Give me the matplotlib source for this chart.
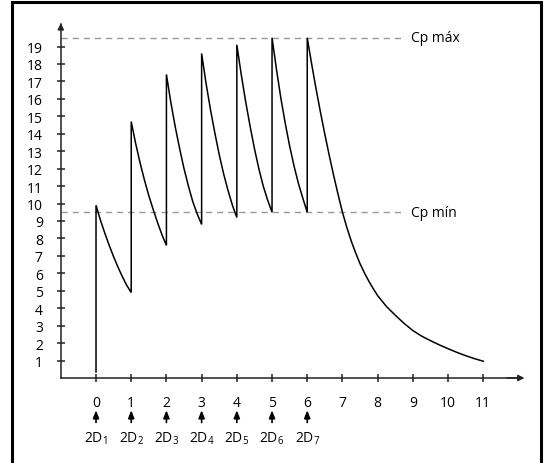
import matplotlib
matplotlib.use("Agg")
import matplotlib.pyplot as plt
from matplotlib.patches import Rectangle

plt.rcParams['font.family'] = ['Open Sans', 'DejaVu Sans']
plt.rcParams['mathtext.fontset'] = 'custom'
plt.rcParams['mathtext.rm'] = 'Open Sans'
plt.rcParams['mathtext.it'] = 'Open Sans'

# values, each dose interval in steps of 1/8
interval_steps = [0, 0.125, 0.25, 0.375, 0.5, 0.625, 0.75, 0.875, 1.0]
dose_times = [0, 1, 2, 3, 4, 5]
decays = [
    [9.9, 9.05, 8.3, 7.6, 6.95, 6.35, 5.8, 5.3, 4.9],
    [14.7, 13.45, 12.35, 11.35, 10.45, 9.65, 8.9, 8.2, 7.6],
    [17.4, 15.8, 14.4, 13.15, 12.0, 11.0, 10.1, 9.4, 8.8],
    [18.6, 16.9, 15.4, 14.05, 12.8, 11.7, 10.75, 9.9, 9.2],
    [19.1, 17.4, 15.85, 14.45, 13.15, 12.0, 11.0, 10.2, 9.5],
    [19.5, 17.7, 16.05, 14.6, 13.3, 12.15, 11.15, 10.3, 9.5],
]
start_level = 0.35
# after the last dose (t = 6)
tail_t = [6, 6.125, 6.25, 6.375, 6.5, 6.625, 6.75, 6.875, 7,
          7.125, 7.25, 7.375, 7.5, 7.625, 7.75, 7.875, 8,
          8.25, 8.5, 8.75, 9, 9.25, 9.5, 9.75, 10, 10.25, 10.5, 10.75, 11]
tail_c = [19.5, 18.0, 16.58, 15.24, 13.97, 12.76, 11.61, 10.53, 9.5,
          8.63, 7.85, 7.17, 6.55, 6.02, 5.55, 5.12, 4.72,
          4.1, 3.6, 3.13, 2.72, 2.4, 2.14, 1.9, 1.68, 1.47, 1.28, 1.11, 0.96]

cp_max = 19.5
cp_min = 9.5
yticks = list(range(1, 20))
xticks = list(range(0, 12))
dose_labels = ['2D$_\\mathrm{%d}$' % i for i in range(1, 8)]
dose_marks = [0, 1, 2, 3, 4, 5, 6]

# build the curve
xs = [0]
ys = [start_level]
for t0, vals in zip(dose_times, decays):
    for s, v in zip(interval_steps, vals):
        xs.append(t0 + s)
        ys.append(v)
for t, v in zip(tail_t, tail_c):
    xs.append(t)
    ys.append(v)

fig = plt.figure(figsize=(5.47, 4.64), dpi=100)
ax = fig.add_axes([0.079, 0.0328, 0.901, 0.940])
ax.set_xlim(-1.5, 12.5)
ax.set_ylim(-4, 21)

axcol = '#222222'
for s in ['top', 'right']:
    ax.spines[s].set_visible(False)
ax.spines['left'].set_position(('data', -1))
ax.spines['bottom'].set_position(('data', 0))
ax.spines['left'].set_bounds(0, 20.3)
ax.spines['bottom'].set_bounds(-1, 12.1)
for s in ['left', 'bottom']:
    ax.spines[s].set_color(axcol)
    ax.spines[s].set_linewidth(1.1)

ax.annotate('', xy=(-1, 20.5), xytext=(-1, 19.8),
            arrowprops=dict(arrowstyle='-|>', color=axcol, lw=1.1,
                            mutation_scale=9), annotation_clip=False)
ax.annotate('', xy=(12.25, 0), xytext=(11.6, 0),
            arrowprops=dict(arrowstyle='-|>', color=axcol, lw=1.1,
                            mutation_scale=9), annotation_clip=False)

ax.set_yticks(yticks)
ax.set_xticks(xticks)
ax.tick_params(direction='inout', length=6, width=1.1, color=axcol,
               labelsize=10, labelcolor='black')
ax.tick_params(axis='y', pad=10)
ax.tick_params(axis='x', pad=9)

# reference lines
ax.plot([-1, 8.7], [cp_max, cp_max], color='#999999', lw=1.0,
        dashes=(4.5, 3.5))
ax.plot([-1, 8.7], [cp_min, cp_min], color='#999999', lw=1.0,
        dashes=(4.5, 3.5))
ax.text(8.95, cp_max, 'Cp máx', fontsize=10, va='center', ha='left')
ax.text(8.95, cp_min, 'Cp mín', fontsize=10, va='center', ha='left')

ax.plot(xs, ys, color='black', lw=1.1, solid_joinstyle='miter')

# dose arrows under the axis
for t, lab in zip(dose_marks, dose_labels):
    ax.annotate('', xy=(t, -1.85), xytext=(t, -2.55),
                arrowprops=dict(arrowstyle='-|>,head_length=0.45,head_width=0.18',
                                color='black', lw=1.2, mutation_scale=10,
                                shrinkA=0, shrinkB=0), annotation_clip=False)
    ax.text(t, -3.45, lab, fontsize=10, ha='center', va='center')

fig.patches.append(Rectangle((11.5 / 547, -0.01), (541 - 11.5) / 547,
                             (1 - 2.5 / 464) + 0.01, transform=fig.transFigure,
                             fill=False, edgecolor='black', lw=2.2))

fig.savefig('out.png', dpi=100)
